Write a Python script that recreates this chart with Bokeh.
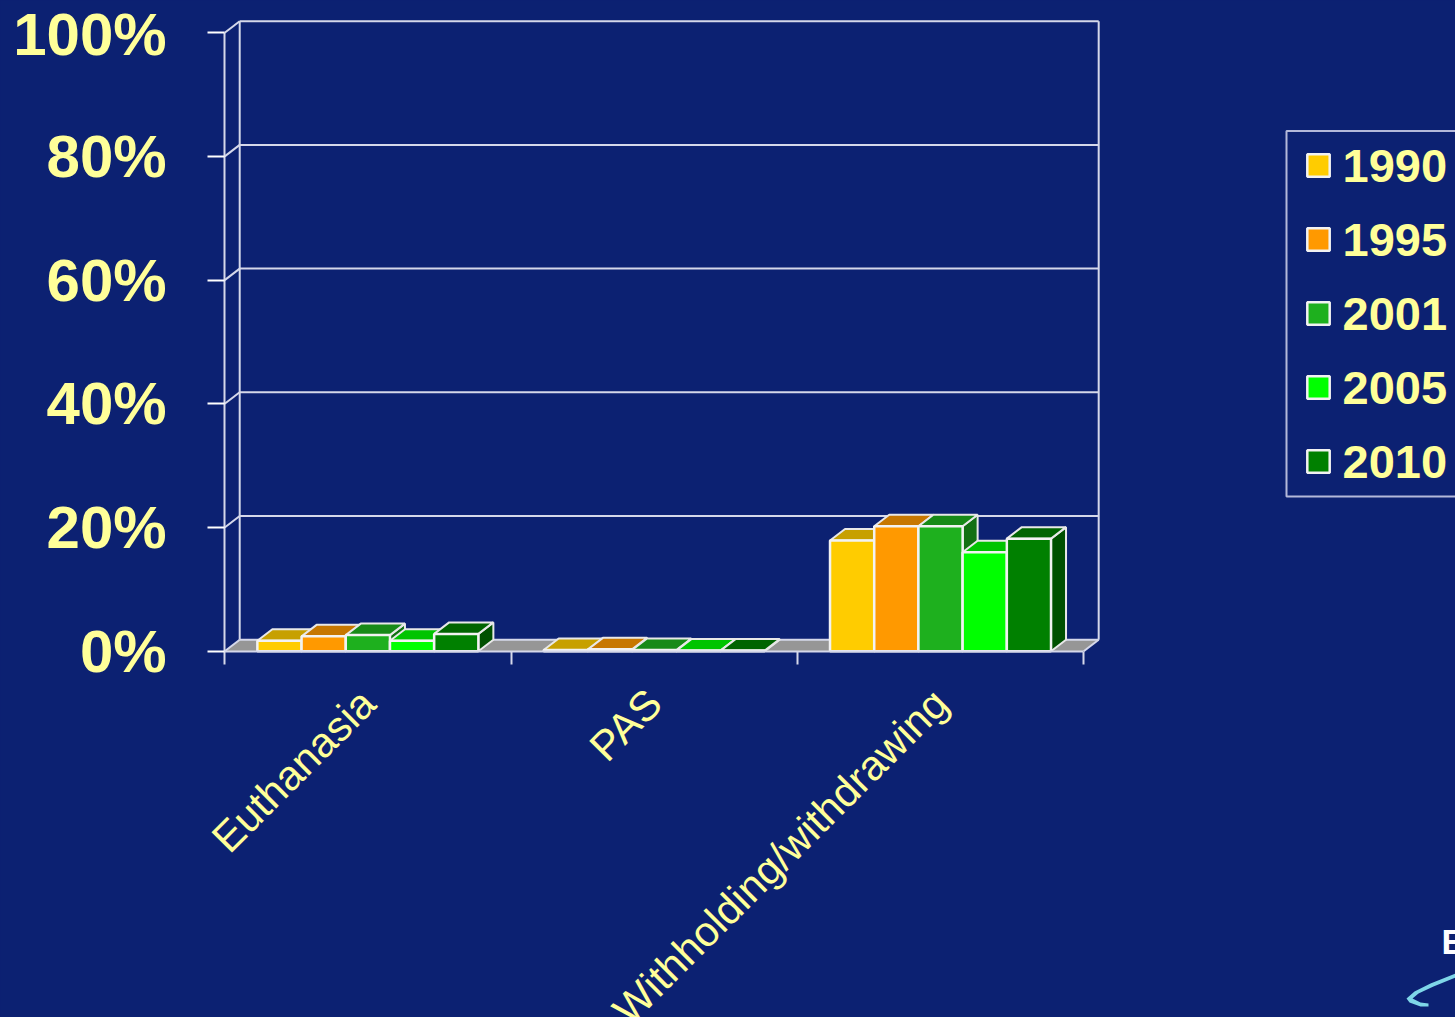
from math import pi
from bokeh.plotting import figure
from bokeh.embed import file_html
from bokeh.resources import INLINE
from bokeh.core.properties import value
from bokeh.models import Range1d, FixedTicker, PrintfTickFormatter, Legend, LegendItem

categories = ["Euthanasia", "PAS", "Withholding/withdrawing"]
years = ["1990", "1995", "2001", "2005", "2010"]
euthanasia = [1.7, 2.4, 2.6, 1.7, 2.8]
pas = [0.2, 0.3, 0.2, 0.1, 0.1]
withholding = [17.9, 20.2, 20.2, 16.0, 18.2]
series = [euthanasia, pas, withholding]
y_ticks = [0, 20, 40, 60, 80, 100]
front_colors = ["#ffcc00", "#ff9900", "#1eb01e", "#00ff00", "#008000"]
top_colors = ["#c7a000", "#c77700", "#178a17", "#00c400", "#006400"]
side_colors = ["#a88700", "#a86500", "#127012", "#00a000", "#005000"]

BG = "#0c2172"
LINE = "#d5d8ea"
YELLOW = "#ffff99"
FONT = "Liberation Sans"

W, H = 1455, 1017
PX_X = 286.33      # px per category
PX_Y = 6.185       # px per percent
DX = 15 / PX_X     # 3-D depth in data units
DY = 11.5 / PX_Y
BAR_W = 44.2 / PX_X


def pxx(px):
    return (px - 224.2) / PX_X


def pxy(py):
    return (650.7 - py) / PX_Y


p = figure(
    width=W, height=H, output_backend="svg", toolbar_location=None,
    x_range=Range1d(pxx(0), pxx(W)), y_range=Range1d(pxy(H), pxy(0)),
    background_fill_color=BG, border_fill_color=BG, outline_line_color=None,
    min_border=0, styles={"background-color": BG},
)
p.grid.visible = False

# y axis
ya = p.yaxis[0]
ya.fixed_location = 0
ya.ticker = FixedTicker(ticks=y_ticks)
ya.formatter = PrintfTickFormatter(format="%d%%")
ya.bounds = (0, 100)
ya.axis_line_color = LINE
ya.axis_line_width = 2
ya.major_tick_line_color = "#ffffff"
ya.major_tick_line_width = 2
ya.major_tick_in = 0
ya.major_tick_out = 17
ya.minor_tick_line_color = None
ya.major_label_standoff = 41
ya.major_label_text_color = YELLOW
ya.major_label_text_font = FONT
ya.major_label_text_font_style = "bold"
ya.major_label_text_font_size = "60px"

# x axis: names at the category centres, ticks at the borders
xa = p.xaxis[0]
xa.fixed_location = 0
xa.ticker = FixedTicker(ticks=[0.5, 1.5, 2.5], minor_ticks=[0, 1, 2, 3])
xa.major_label_overrides = {g + 0.5: name for g, name in enumerate(categories)}
xa.major_label_orientation = pi / 4
xa.major_label_standoff = 32
xa.major_label_text_color = YELLOW
xa.major_label_text_font = FONT
xa.major_label_text_font_size = "42px"
xa.bounds = (0, 3)
xa.axis_line_color = LINE
xa.axis_line_width = 2
xa.major_tick_line_color = None
xa.major_tick_in = 0
xa.major_tick_out = 0
xa.minor_tick_line_color = LINE
xa.minor_tick_line_width = 2
xa.minor_tick_in = 0
xa.minor_tick_out = 13

# floor and walls
p.patch([0, 3, 3 + DX, DX], [0, 0, DY, DY], fill_color="#969696", line_color=None)
p.segment([DX] * 6, [t + DY for t in y_ticks], [3 + DX] * 6, [t + DY for t in y_ticks],
          line_color=LINE, line_width=2)
p.segment([0] * 6, y_ticks, [DX] * 6, [t + DY for t in y_ticks], line_color=LINE, line_width=2)
p.segment([DX, 3 + DX], [DY, DY], [DX, 3 + DX], [100 + DY, 100 + DY], line_color=LINE, line_width=2)
p.segment([3], [0], [3 + DX], [DY], line_color=LINE, line_width=2)

# bars
items = []
for j, year in enumerate(years):
    xs = [g + 0.5 + (j - 2) * BAR_W for g in range(len(categories))]
    vals = [s[j] for s in series]
    for g, (x, v) in enumerate(zip(xs, vals)):
        l, r = x - BAR_W / 2, x + BAR_W / 2
        p.patch([r, r + DX, r + DX, r], [0, DY, v + DY, v],
                fill_color=side_colors[j], line_color="#e8e8e8", line_width=2)
        p.patch([l, r, r + DX, l + DX], [v, v, v + DY, v + DY],
                fill_color=top_colors[j], line_color="#e8e8e8", line_width=2)
        bar = p.vbar(x=[x], top=[v], bottom=0, width=BAR_W, fill_color=front_colors[j],
                     line_color="#f2f2f2", line_width=2.5)
        if g == 0:
            items.append(LegendItem(label=year, renderers=[bar]))

# legend frame and legend
p.quad(left=[pxx(1286)], right=[pxx(W + 20)], top=[pxy(130.5)], bottom=[pxy(496)],
       fill_color=None, line_color="#b4b9da", line_width=2)
legend = Legend(
    items=items, location=(1303.5, H - 488.5), orientation="vertical",
    background_fill_alpha=0, border_line_color=None,
    glyph_width=28, glyph_height=28, label_standoff=11,
    label_text_color=YELLOW, label_text_font=FONT, label_text_font_style="bold",
    label_text_font_size="47px", spacing=19, padding=0, margin=0,
)
p.add_layout(legend)

# cropped logo in the corner
p.text([pxx(1441)], [pxy(941)], text=["E"], text_color="#ffffff", text_font=value(FONT),
       text_font_style="bold", text_font_size="35px", text_baseline="alphabetic")
p.patch([pxx(a) for a in [1455, 1430, 1414, 1406, 1409, 1420, 1428, 1428, 1420, 1412, 1418, 1433, 1455]],
        [pxy(b) for b in [973, 983, 991, 998, 1002, 1006, 1006, 1003, 1002, 998, 993, 986, 977]],
        fill_color="#7fd6e8", line_color=None)

open("out.html", "w").write(file_html(p, INLINE))
